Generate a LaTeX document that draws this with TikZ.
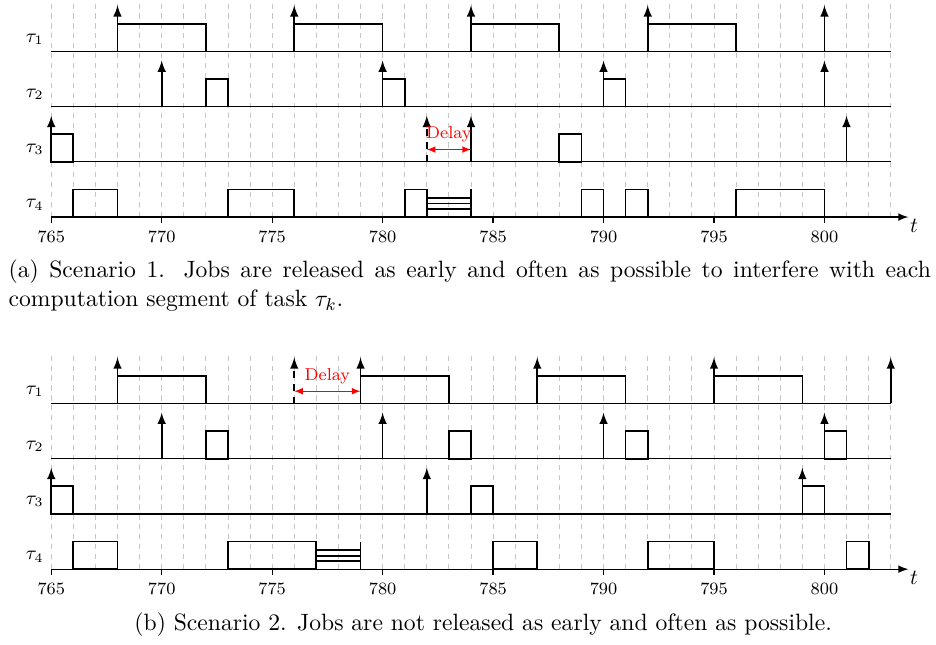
\documentclass[tikz,border=0pt]{standalone}
\usepackage{amsmath,amssymb}
\usepackage{xcolor}
\usepackage{tikz}
\usetikzlibrary{arrows,positioning,calc,arrows.meta}

\begin{document}
\begin{tikzpicture}[x=0.36cm, y=1cm, >=latex, font=\footnotesize,
        gridline/.style={gray!45, dash pattern=on 2.4pt off 2.2pt},
        baseline/.style={semithick},
        job/.style={thick},
        release/.style={->, thick},
        delayarrow/.style={<->, red},
        tasklabel/.style={left, font=\small},
        timelabel/.style={below right, inner sep=0.5pt, font=\normalsize},
        caption/.style={font=\fontsize{10.95}{13.6}\selectfont}]
    \useasboundingbox (762.69,-1.22) rectangle (805.06,9.275);

    % Scenario 1
    \begin{scope}[yshift=5.738cm]
        \foreach \x in {765,...,803}
            \draw[gridline] (\x,0) -- (\x,3.53);
        \foreach \y in {2.7,1.8,0.9}
            \draw[baseline] (765,\y) -- (803,\y);
        \draw[baseline,->] (765,0) -- (803.8,0) node[timelabel] (a-t) {$t$};
        \foreach \x in {765,770,...,800}
            \draw[baseline] (\x,0) -- (\x,-0.1) node[below] (a-\x) {\x};
        \foreach \y/\i in {2.7/1,1.8/2,0.9/3,0/4}
            \node[tasklabel] (a-tau\i) at (765,\y+0.2) {$\tau_\i$};

        % tau 1
        \foreach \x in {768,776,784,792,800}
            \draw[release] (\x,2.7) -- (\x,3.45);
        \foreach \a/\b in {768/772,776/780,784/788,792/796}
            \draw[job] (\a,2.7) rectangle (\b,3.15);
        % tau 2
        \foreach \x in {770,780,790,800}
            \draw[release] (\x,1.8) -- (\x,2.55);
        \foreach \a/\b in {772/773,780/781,790/791}
            \draw[job] (\a,1.8) rectangle (\b,2.25);
        % tau 3
        \foreach \x in {765,784,801}
            \draw[release] (\x,0.9) -- (\x,1.65);
        \draw[release,dashed] (782,0.9) -- (782,1.65);
        \foreach \a/\b in {765/766,788/789}
            \draw[job] (\a,0.9) rectangle (\b,1.35);
        \draw[delayarrow] (782,1.1) -- node[above] (a-delay) {Delay} (784,1.1);
        % tau 4
        \foreach \a/\b in {766/768,773/776,781/782,789/790,791/792,796/800}
            \draw[job] (\a,0) rectangle (\b,0.45);
        \foreach \h in {0.13,0.22,0.31}
            \draw[job] (782,\h) -- (784,\h);
        \draw[job] (784,0) -- (784,0.45);
    \end{scope}

    \node[caption, anchor=base west, text width=15.03cm, align=justify, inner sep=0pt] (cap-a) at (763.05,4.755)
        {(a) Scenario 1. Jobs are released as early and often as possible to interfere with each\linebreak computation segment of task $\tau_k$.};

    % Scenario 2
    \begin{scope}
        \foreach \x in {765,...,803}
            \draw[gridline] (\x,0) -- (\x,3.53);
        \foreach \y in {2.7,1.8,0.9}
            \draw[baseline] (765,\y) -- (803,\y);
        \draw[baseline,->] (765,0) -- (803.8,0) node[timelabel] (b-t) {$t$};
        \foreach \x in {765,770,...,800}
            \draw[baseline] (\x,0) -- (\x,-0.1) node[below] (b-\x) {\x};
        \foreach \y/\i in {2.7/1,1.8/2,0.9/3,0/4}
            \node[tasklabel] (b-tau\i) at (765,\y+0.2) {$\tau_\i$};

        % tau 1
        \foreach \x in {768,779,787,795,803}
            \draw[release] (\x,2.7) -- (\x,3.45);
        \draw[release,dashed] (776,2.7) -- (776,3.45);
        \foreach \a/\b in {768/772,779/783,787/791,795/799}
            \draw[job] (\a,2.7) rectangle (\b,3.15);
        \draw[delayarrow] (776,2.9) -- node[above] (b-delay) {Delay} (779,2.9);
        % tau 2
        \foreach \x in {770,780,790,800}
            \draw[release] (\x,1.8) -- (\x,2.55);
        \foreach \a/\b in {772/773,783/784,791/792,800/801}
            \draw[job] (\a,1.8) rectangle (\b,2.25);
        % tau 3
        \foreach \x in {765,782,799}
            \draw[release] (\x,0.9) -- (\x,1.65);
        \foreach \a/\b in {765/766,784/785,799/800}
            \draw[job] (\a,0.9) rectangle (\b,1.35);
        % tau 4
        \foreach \a/\b in {766/768,773/777,785/787,792/795,801/802}
            \draw[job] (\a,0) rectangle (\b,0.45);
        \foreach \h in {0.13,0.22,0.31}
            \draw[job] (777,\h) -- (779,\h);
        \draw[job] (779,0) -- (779,0.45);
    \end{scope}

    \node[caption, anchor=base] (cap-b) at (784.55,-1.007)
        {(b) Scenario 2. Jobs are not released as early and often as possible.};
\end{tikzpicture}
\end{document}
